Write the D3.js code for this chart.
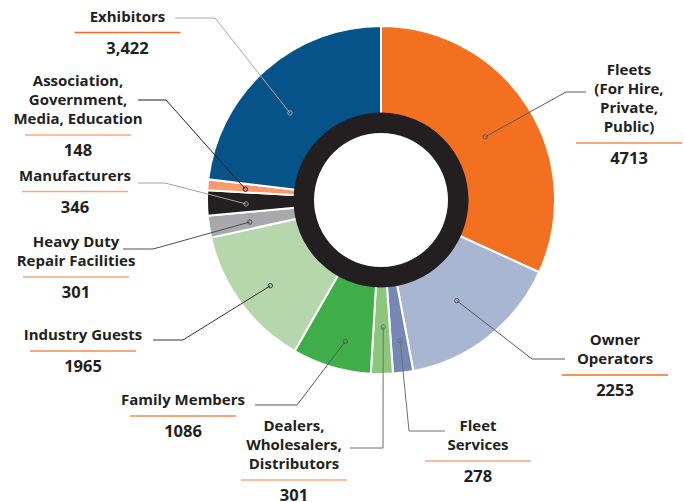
<!DOCTYPE html>
<html>
<head>
<meta charset="utf-8">
<script src="https://cdn.jsdelivr.net/npm/d3@7"></script>
<style>
  body { margin: 0; background: #fff; }
  text { font-family: "Open Sans", "Noto Sans", sans-serif; font-weight: 700; fill: #231f20; }
</style>
</head>
<body>
<div id="chart"></div>
<script>
// categories, clockwise from 12 o'clock
var categories = ["Fleets (For Hire, Private, Public)", "Owner Operators", "Fleet Services",
  "Dealers, Wholesalers, Distributors", "Family Members", "Industry Guests",
  "Heavy Duty Repair Facilities", "Manufacturers", "Association, Government, Media, Education", "Exhibitors"];
var values = [4713, 2253, 278, 301, 1086, 1965, 301, 346, 148, 3422];
var valueLabels = ["4713", "2253", "278", "301", "1086", "1965", "301", "346", "148", "3,422"];
var labelLines = [
  ["Fleets", "(For Hire,", "Private,", "Public)"],
  ["Owner", "Operators"],
  ["Fleet", "Services"],
  ["Dealers,", "Wholesalers,", "Distributors"],
  ["Family Members"],
  ["Industry Guests"],
  ["Heavy Duty", "Repair Facilities"],
  ["Manufacturers"],
  ["Association,", "Government,", "Media, Education"],
  ["Exhibitors"]
];
var colors = ["#f37021", "#a9b6d2", "#7587b5", "#8cc67b", "#3fae49", "#b5d7ab",
  "#a7a9ac", "#231f20", "#f79a6c", "#06538a"];

// label placement: text centre x, first baseline, leader elbow/end,
// dot radius and angle nudge (degrees)
var layout = [
  {cx: 629, y: 75,    ex: 566, ey: 92,  hx: 586, r: 122, da: 1.5,  line: "#58595b", ul: "#f58a52"},
  {cx: 615, y: 345,   ex: 532, ey: 359, hx: 565, r: 126, da: 1.1,  line: "#58595b", ul: "#f37021"},
  {cx: 478, y: 431,   ex: 409, ey: 431, hx: 445, r: 142, da: -0.4, line: "#6d6e71", ul: "#f9a77c"},
  {cx: 294, y: 431,   ex: 383, ey: 448, hx: 350, r: 127, da: -0.7, line: "#6d6e71", ul: "#f9a77c"},
  {cx: 183, y: 405,   ex: 297, ey: 405, hx: 255, r: 146, da: -2.4, line: "#58595b", ul: "#f58a52"},
  {cx: 83,  y: 340,   ex: 183, ey: 340, hx: 153, r: 140, da: -1.4, line: "#333333", ul: "#f58a52"},
  {cx: 76,  y: 247,   ex: 153, ey: 249, hx: 123, r: 133, da: -0.7, line: "#4d4d4f", ul: "#f9a77c"},
  {cx: 75,  y: 180.5, ex: 165, ey: 183, hx: 138, r: 135, da: -0.7, line: "#a0a0a2", ul: "#f9a77c"},
  {cx: 78,  y: 86,    ex: 166, ey: 100, hx: 138, r: 136, da: -0.5, line: "#231f20", ul: "#f9a77c"},
  {cx: 127.5, y: 21.5, ex: 215, ey: 18, hx: 175, r: 126, da: -4.7, line: "#a7a9ac", ul: "#f26b21"}
];

var width = 684, height = 502;
var cx = 381, cy = 200;
var outerR = 174, innerR = 84, ringOuter = 87.5, ringInner = 67;

var svg = d3.select("#chart").append("svg")
    .attr("width", width)
    .attr("height", height);

var pie = d3.pie().sort(null).value(function(d) { return d; });
var arcs = pie(values);

var arc = d3.arc().innerRadius(innerR).outerRadius(outerR);

var g = svg.append("g").attr("transform", "translate(" + cx + "," + cy + ")");

g.selectAll("path.slice")
    .data(arcs)
  .enter().append("path")
    .attr("class", "slice")
    .attr("d", arc)
    .style("fill", function(d, i) { return colors[i]; })
    .style("stroke", "#fff")
    .style("stroke-width", 2);

// black ring in the middle
g.append("path")
    .attr("d", d3.arc().innerRadius(ringInner).outerRadius(ringOuter).startAngle(0).endAngle(2 * Math.PI)())
    .style("fill", "#231f20");

// leader lines
var rad = Math.PI / 180;
arcs.forEach(function(d, i) {
  var L = layout[i];
  var p = d3.arc().innerRadius(L.r).outerRadius(L.r)
      .startAngle(d.startAngle + L.da * rad).endAngle(d.endAngle + L.da * rad).centroid();
  var px = p[0] + cx, py = p[1] + cy;
  svg.append("polyline")
      .attr("points", [[px, py], [L.ex, L.ey], [L.hx, L.ey]].map(function(q) { return q.join(","); }).join(" "))
      .style("fill", "none")
      .style("stroke", L.line)
      .style("stroke-width", 1);
  svg.append("circle")
      .attr("cx", px).attr("cy", py).attr("r", 2.2)
      .style("fill", "none")
      .style("stroke", L.line)
      .style("stroke-width", 1);
});

// labels
labelLines.forEach(function(lines, i) {
  var L = layout[i];
  var lab = svg.append("g");
  lines.forEach(function(t, j) {
    lab.append("text")
        .attr("x", L.cx).attr("y", L.y + j * 19)
        .attr("text-anchor", "middle")
        .style("font-size", "15px")
        .text(t);
  });
  var last = L.y + (lines.length - 1) * 19;
  lab.append("line")
      .attr("x1", L.cx - 53).attr("x2", L.cx + 53)
      .attr("y1", last + 11).attr("y2", last + 11)
      .style("stroke", L.ul)
      .style("stroke-width", 1.5);
  lab.append("text")
      .attr("x", L.cx).attr("y", last + 32)
      .attr("text-anchor", "middle")
      .style("font-size", "16.5px")
      .text(valueLabels[i]);
});
</script>
</body>
</html>
